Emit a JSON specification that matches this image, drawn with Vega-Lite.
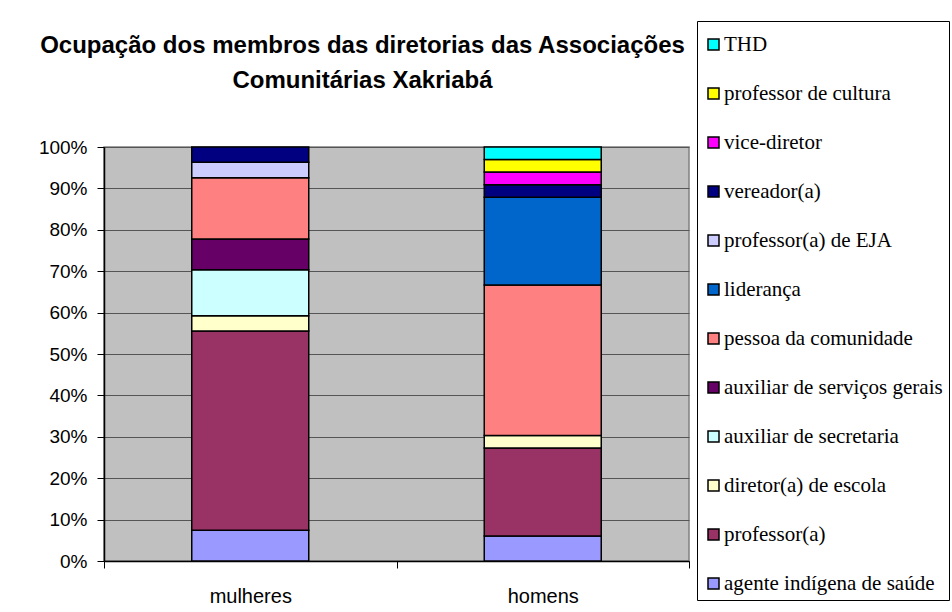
{
  "$schema": "https://vega.github.io/schema/vega-lite/v6.json",
  "autosize": {"type": "none"},
  "width": 585,
  "height": 414,
  "padding": {"left": 104, "top": 147, "right": 263, "bottom": 51},
  "background": "white",
  "title": {
    "text": ["Ocupação dos membros das diretorias das Associações", "Comunitárias Xakriabá"],
    "font": "Liberation Sans",
    "fontSize": 24,
    "fontWeight": "bold",
    "color": "black",
    "lineHeight": 35,
    "anchor": "middle",
    "frame": "group",
    "baseline": "bottom",
    "dx": -34,
    "dy": 96,
    "offset": 0
  },
  "data": {
    "values": [
      {"grupo": "mulheres", "ocupacao": "agente indígena de saúde", "n": 2},
      {"grupo": "mulheres", "ocupacao": "professor(a)", "n": 13},
      {"grupo": "mulheres", "ocupacao": "diretor(a) de escola", "n": 1},
      {"grupo": "mulheres", "ocupacao": "auxiliar de secretaria", "n": 3},
      {"grupo": "mulheres", "ocupacao": "auxiliar de serviços gerais", "n": 2},
      {"grupo": "mulheres", "ocupacao": "pessoa da comunidade", "n": 4},
      {"grupo": "mulheres", "ocupacao": "professor(a) de EJA", "n": 1},
      {"grupo": "mulheres", "ocupacao": "vereador(a)", "n": 1},
      {"grupo": "homens", "ocupacao": "agente indígena de saúde", "n": 2},
      {"grupo": "homens", "ocupacao": "professor(a)", "n": 7},
      {"grupo": "homens", "ocupacao": "diretor(a) de escola", "n": 1},
      {"grupo": "homens", "ocupacao": "pessoa da comunidade", "n": 12},
      {"grupo": "homens", "ocupacao": "liderança", "n": 7},
      {"grupo": "homens", "ocupacao": "vereador(a)", "n": 1},
      {"grupo": "homens", "ocupacao": "vice-diretor", "n": 1},
      {"grupo": "homens", "ocupacao": "professor de cultura", "n": 1},
      {"grupo": "homens", "ocupacao": "THD", "n": 1}
    ]
  },
  "transform": [
    {"calculate": "indexof(['agente indígena de saúde', 'professor(a)', 'diretor(a) de escola', 'auxiliar de secretaria', 'auxiliar de serviços gerais', 'pessoa da comunidade', 'liderança', 'professor(a) de EJA', 'vereador(a)', 'vice-diretor', 'professor de cultura', 'THD'], datum.ocupacao)", "as": "ordem"}
  ],
  "mark": {"type": "bar", "stroke": "black", "strokeWidth": 1.5, "width": {"band": 0.4}},
  "encoding": {
    "x": {
      "field": "grupo",
      "type": "nominal",
      "sort": ["mulheres", "homens"],
      "scale": {"paddingInner": 0, "paddingOuter": 0},
      "axis": {
        "title": null,
        "labelAngle": 0,
        "labelFont": "Liberation Sans",
        "labelFontSize": 20,
        "labelColor": "black",
        "labelPadding": 18,
        "tickBand": "extent",
        "tickColor": "black",
        "tickSize": 7,
        "domainColor": "black",
        "domainWidth": 1.5,
        "grid": false
      }
    },
    "y": {
      "aggregate": "sum",
      "field": "n",
      "type": "quantitative",
      "stack": "normalize",
      "scale": {"domain": [0, 1]},
      "axis": {
        "title": null,
        "format": ".0%",
        "values": [0, 0.1, 0.2, 0.3, 0.4, 0.5, 0.6, 0.7, 0.8, 0.9, 1],
        "labelFont": "Liberation Sans",
        "labelFontSize": 19,
        "labelColor": "black",
        "labelPadding": 10,
        "tickColor": "black",
        "tickSize": 7,
        "domainColor": "black",
        "domainWidth": 1.5,
        "gridColor": "#555555",
        "gridWidth": 1,
        "gridOpacity": 1
      }
    },
    "order": {"field": "ordem", "type": "quantitative", "sort": "ascending"},
    "color": {
      "field": "ocupacao",
      "type": "nominal",
      "scale": {
        "domain": ["THD", "professor de cultura", "vice-diretor", "vereador(a)", "professor(a) de EJA", "liderança", "pessoa da comunidade", "auxiliar de serviços gerais", "auxiliar de secretaria", "diretor(a) de escola", "professor(a)", "agente indígena de saúde"],
        "range": ["#00FFFF", "#FFFF00", "#FF00FF", "#000080", "#CCCCFF", "#0066CC", "#FF8080", "#660066", "#CCFFFF", "#FFFFCC", "#993366", "#9999FF"]
      },
      "legend": {
        "title": " ",
        "titleFontSize": 1,
        "titlePadding": 6,
        "orient": "none",
        "legendX": 593,
        "legendY": -126,
        "padding": 6,
        "strokeColor": "black",
        "fillColor": "white",
        "symbolType": "square",
        "symbolSize": 121,
        "symbolStrokeColor": "black",
        "symbolStrokeWidth": 1.5,
        "symbolOpacity": 1,
        "labelFont": "Liberation Serif",
        "labelFontSize": 21,
        "labelColor": "black",
        "labelOffset": 0,
        "labelLimit": 400,
        "rowPadding": 27
      }
    }
  },
  "config": {
    "view": {"fill": "#C0C0C0", "stroke": "#808080", "strokeWidth": 1.5}
  }
}
